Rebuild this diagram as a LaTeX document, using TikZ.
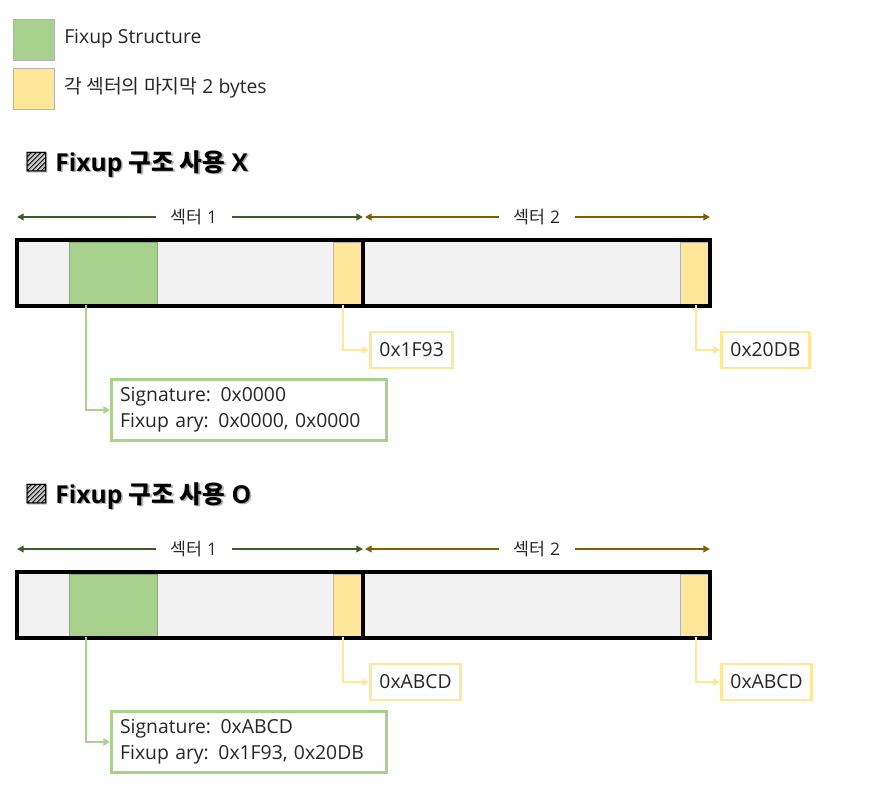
\documentclass[tikz,border=0pt]{standalone}
\usepackage{fontspec}
\setmainfont{Open Sans}
\newfontfamily\kr{Noto Sans CJK KR}
\usetikzlibrary{arrows.meta,positioning,calc}
\definecolor{fixgreen}{HTML}{A9D18E}
\definecolor{fixedge}{HTML}{8CA878}
\definecolor{lastyel}{HTML}{FFE699}
\definecolor{celledge}{HTML}{B4B4B4}
\definecolor{cellgray}{HTML}{F2F2F2}
\definecolor{sectone}{HTML}{3B5E29}
\definecolor{secttwo}{HTML}{7F6000}
\definecolor{txtgray}{HTML}{262626}
\tikzset{
  legbox/.style ={draw=celledge,line width=0.8pt,minimum size=30.75pt,inner sep=0pt,anchor=north west},
  legtext/.style={anchor=west,inner sep=0pt,font=\fontsize{14.5}{17}\selectfont,text=txtgray},
  heading/.style={anchor=west,inner sep=0pt,font=\fontsize{18.5}{22}\selectfont\bfseries},
  seclabel/.style={inner ysep=0pt,inner xsep=11pt,outer sep=0pt,font=\fontsize{13}{16}\selectfont,text=txtgray},
  secarrow/.style={line width=1.5pt,-{Triangle[length=5pt,width=5pt]}},
  outer/.style  ={draw=black,line width=2.4pt},
  gcell/.style  ={fill=fixgreen,draw=fixedge,line width=0.6pt,minimum width=66pt,minimum height=46.5pt,inner sep=0pt,anchor=north west},
  ycell/.style  ={fill=lastyel,draw=celledge,line width=0.6pt,minimum width=22.5pt,minimum height=46.5pt,inner sep=0pt,anchor=north west},
  valbox/.style ={draw=lastyel,line width=2.2pt,fill=white,anchor=west,inner xsep=6.75pt,minimum height=27pt,font=\fontsize{14.5}{17}\selectfont,text=txtgray},
  fixbox/.style ={draw=fixgreen,line width=2.2pt,fill=white,anchor=west,inner xsep=6.5pt,text width=193pt,align=left,minimum height=45.75pt,font=\fontsize{14.5}{19.5}\selectfont,text=txtgray},
  yconn/.style  ={draw=lastyel,line width=2pt,-{Triangle[length=5pt,width=5.5pt]}},
  gconn/.style  ={draw=fixgreen,line width=2pt,-{Triangle[length=5pt,width=5.5pt]}},
}
\begin{document}
\begin{tikzpicture}[x=0.75pt,y=-0.75pt]
  \useasboundingbox (0,0) rectangle (875,807);
  % legend
  \node[legbox,fill=fixgreen] (lg) at (13,19) {};
  \node[legtext] (lgt) at (64,39) {Fixup Structure};
  \node[legtext] (lyt) at (64,88) {{\kr 각 섹터의 마지막} 2 bytes};
  \node[legbox,fill=lastyel] (ly) at (13,68) {};
  % two cases
  \foreach \dy/\mk/\sig/\aryv/\va/\vb in {0/X/0x0000/{0x0000, 0x0000}/0x1F93/0x20DB,332/O/0xABCD/{0x1F93, 0x20DB}/0xABCD/0xABCD}{
     \node[heading,text=black!30] at (25.5,165.5+\dy) {{\kr ▨} Fixup {\kr 구조 사용} \mk};
     \node[heading] (h\mk) at (24,164+\dy) {{\kr ▨} Fixup {\kr 구조 사용} \mk};
     % sector ranges
     \coordinate (l\mk) at (17,217+\dy);
     \coordinate (m\mk) at (363,217+\dy);
     \coordinate (r\mk) at (710,217+\dy);
     \node[seclabel] (sa\mk) at (194,217+\dy) {{\kr 섹터} 1};
     \node[seclabel] (sb\mk) at (537,217+\dy) {{\kr 섹터} 2};
     \draw[secarrow,sectone] (sa\mk) -- (l\mk);
     \draw[secarrow,sectone] (sa\mk) -- (m\mk);
     \draw[secarrow,secttwo] (sb\mk) -- ($(m\mk)+(2,0)$);
     \draw[secarrow,secttwo] (sb\mk) -- (r\mk);
     % sectors
     \fill[cellgray] (17,240+\dy) rectangle (710,306+\dy);
     \node[gcell] (g\mk) at (69,242+\dy) {};
     \node[ycell] (ya\mk) at (333,242+\dy) {};
     \node[ycell] (yb\mk) at (680,242+\dy) {};
     \draw[outer] (17,240+\dy) rectangle (710,306+\dy);
     \draw[outer] (363,240+\dy) -- (363,306+\dy);
     % values
     \node[valbox] (va\mk) at (369,350+\dy) {\va};
     \node[valbox] (vb\mk) at (720,350+\dy) {\vb};
     \node[fixbox] (f\mk) at (110,410+\dy) {Signature: \sig\\Fixup ary: \aryv};
     \draw[yconn] ($(ya\mk.south west)+(10,0)$) |- (va\mk.west);
     \draw[yconn] ($(yb\mk.south west)+(16,0)$) |- (vb\mk.west);
     \draw[gconn] ($(g\mk.south west)+(17,0)$) |- (f\mk.west);
  }
\end{tikzpicture}
\end{document}
